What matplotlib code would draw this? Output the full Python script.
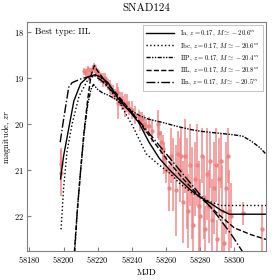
import numpy as np
import matplotlib.pyplot as plt
import matplotlib as mpl

mpl.rcParams['font.family'] = 'serif'
mpl.rcParams['font.serif'] = ['cmr10', 'DejaVu Serif']
mpl.rcParams['mathtext.fontset'] = 'cm'
mpl.rcParams['axes.formatter.use_mathtext'] = True
mpl.rcParams['font.size'] = 6

obs_mjd = [58198.3, 58198.6,
           58212, 58213, 58214, 58215, 58216, 58217, 58218, 58218.5, 58219,
           58220, 58221, 58222, 58223, 58224, 58225, 58226, 58227, 58228,
           58229, 58230, 58231, 58232, 58233, 58234, 58235, 58236, 58237,
           58238, 58240, 58242, 58244, 58245, 58246, 58247, 58248, 58250,
           58252, 58255.5,
           58256, 58257, 58258, 58259, 58260, 58262, 58263, 58264, 58266,
           58267, 58268, 58269, 58270, 58271, 58272, 58273, 58274, 58275,
           58276, 58277, 58278, 58279, 58280, 58281, 58282, 58283, 58284,
           58285, 58286, 58287, 58288, 58289, 58290, 58291, 58292, 58293,
           58294, 58295, 58296, 58297, 58298, 58305, 58316]
obs_mag = [20.88, 21.07,
           18.85, 18.90, 18.80, 18.95, 18.85, 18.78, 18.73, 18.80, 18.85,
           18.90, 18.95, 19.00, 19.05, 19.00, 19.10, 19.15, 19.20, 19.25,
           19.30, 19.35, 19.30, 19.55, 19.45, 19.50, 19.55, 19.60, 19.55,
           19.65, 19.70, 19.80, 19.85, 19.95, 19.90, 20.00, 20.05, 20.05,
           20.15, 20.00,
           20.20, 20.40, 20.55, 20.75, 21.00, 21.40, 20.70, 21.10, 21.45,
           20.65, 21.00, 20.70, 21.70, 20.70, 21.30, 21.90, 20.90, 21.50,
           22.20, 21.20, 20.90, 21.80, 22.00, 20.70, 21.60, 22.30, 21.10,
           21.80, 20.80, 22.10, 21.40, 20.90, 22.50, 21.20, 20.80, 21.90,
           22.60, 21.40, 20.70, 21.90, 22.00, 21.95, 22.30]
obs_err = [0.35, 0.50,
           0.08, 0.10, 0.07, 0.12, 0.08, 0.06, 0.06, 0.08, 0.10,
           0.10, 0.12, 0.10, 0.15, 0.12, 0.10, 0.12, 0.15, 0.12,
           0.15, 0.12, 0.20, 0.35, 0.15, 0.20, 0.15, 0.25, 0.20,
           0.15, 0.20, 0.20, 0.15, 0.20, 0.15, 0.20, 0.15, 0.20,
           0.25, 0.30,
           0.15, 0.25, 0.30, 0.35, 0.30, 0.50, 0.60, 0.80, 1.00,
           0.50, 0.70, 0.60, 0.90, 0.80, 1.00, 0.80, 0.90, 1.00,
           0.60, 0.80, 0.90, 1.00, 0.80, 0.60, 0.90, 0.50, 1.00,
           0.80, 0.60, 0.90, 1.00, 0.80, 0.40, 0.90, 0.60, 1.00,
           0.40, 1.00, 0.60, 0.90, 0.70, 0.25, 0.50]

# --- model curves ---
ia_mjd = [58198.2, 58200, 58203, 58206, 58210, 58214, 58218, 58222, 58226,
          58232, 58238, 58244, 58250, 58256, 58262, 58268, 58274, 58280,
          58286, 58292, 58297, 58318.5]
ia_mag = [21.2, 20.7, 20.1, 19.5, 19.12, 18.98, 18.93, 18.98, 19.1,
          19.45, 19.7, 19.97, 20.4, 20.75, 21.0, 21.22, 21.43, 21.6,
          21.73, 21.88, 21.97, 21.97]

ibc_mjd = [58198.5, 58200, 58202, 58205, 58209, 58214, 58219, 58222, 58226,
           58232.7, 58240.5, 58248.3, 58256, 58262, 58268, 58274, 58280,
           58286, 58292, 58318.5]
ibc_mag = [22.3, 21.4, 20.6, 20.0, 19.4, 19.05, 18.92, 19.0, 19.2,
           19.53, 20.05, 20.65, 20.9, 21.07, 21.3, 21.47, 21.6,
           21.7, 21.78, 21.78]

iip_mjd = [58206.5, 58208, 58210, 58212, 58214, 58216, 58217.5, 58220, 58223,
           58226, 58230, 58235, 58240, 58245, 58250, 58258, 58266, 58274,
           58280, 58290, 58300, 58305, 58310, 58315, 58318.5]
iip_mag = [22.8, 21.9, 21.0, 20.2, 19.6, 19.25, 19.14, 19.25, 19.33,
           19.37, 19.45, 19.6, 19.72, 19.83, 19.9, 19.97, 20.05, 20.12,
           20.16, 20.2, 20.24, 20.27, 20.38, 20.52, 20.66]

iil_mjd = [58206.3, 58208, 58210, 58212, 58214, 58216, 58218, 58220, 58225,
           58230, 58240, 58250, 58260, 58270, 58280, 58290, 58300, 58310,
           58318.5]
iil_mag = [22.8, 21.9, 21.0, 20.15, 19.5, 18.95, 18.73, 18.85, 19.1,
           19.3, 19.75, 20.25, 20.75, 21.2, 21.6, 21.95, 22.27, 22.42,
           22.52]

iin_mjd = [58198, 58200, 58203, 58205, 58210, 58214, 58218, 58222, 58230,
           58240, 58250, 58260, 58270, 58280, 58290, 58298, 58305]
iin_mag = [20.4, 19.9, 19.2, 19.1, 19.02, 18.98, 18.95, 19.05, 19.35,
           19.75, 20.2, 20.65, 21.1, 21.55, 22.0, 22.4, 22.8]

labels = [r'Ia, $z = 0.17$, $M \simeq -20.6^m$',
          r'Ibc, $z = 0.17$, $M \simeq -20.6^m$',
          r'IIP, $z = 0.17$, $M \simeq -20.4^m$',
          r'IIL, $z = 0.17$, $M \simeq -20.8^m$',
          r'IIn, $z = 0.17$, $M \simeq -20.5^m$']

fig = plt.figure(figsize=(2.8, 2.8), dpi=100)
ax = fig.add_axes([0.096, 0.104, 0.854, 0.817])

ax.errorbar(obs_mjd, obs_mag, yerr=obs_err, fmt='o', ms=2.2,
            color='#f08080', ecolor='#f08080', elinewidth=1.2,
            alpha=0.85, zorder=1)

lw = 1.0
ax.plot(ia_mjd, ia_mag, '-', color='k', lw=lw, label=labels[0])
ax.plot(ibc_mjd, ibc_mag, ':', color='k', lw=lw, label=labels[1])
ax.plot(iip_mjd, iip_mag, color='k', lw=lw, label=labels[2],
        dashes=[3, 1, 1, 1, 1, 1])
ax.plot(iil_mjd, iil_mag, '--', color='k', lw=lw, label=labels[3])
ax.plot(iin_mjd, iin_mag, '-.', color='k', lw=lw, label=labels[4])

ax.set_xlim(58178.5, 58318.5)
ax.set_ylim(22.77, 17.78)
ax.set_xticks([58180, 58200, 58220, 58240, 58260, 58280, 58300])
ax.set_yticks([18, 19, 20, 21, 22])
ax.ticklabel_format(axis='x', useOffset=False, style='plain')

for sp in ax.spines.values():
    sp.set_color('#808080')
ax.tick_params(color='#808080', labelsize=6, length=3, direction='in',
               pad=2)

ax.set_xlabel('MJD', fontsize=6.5, labelpad=3)
ax.set_ylabel(r'magnitude, $zr$', fontsize=6.2, labelpad=1)
ax.set_title('SNAD124', fontsize=8, pad=8)
ax.text(0.035, 0.957, 'Best type: IIL', transform=ax.transAxes,
        fontsize=6.5, va='center', ha='left')

leg = ax.legend(loc='upper right', fontsize=4.8, handlelength=4.2,
                frameon=True, fancybox=False, borderpad=0.5,
                labelspacing=0.4)
leg.get_frame().set_edgecolor('#aaaaaa')
leg.get_frame().set_linewidth(0.6)

fig.savefig('out.png', dpi=100)
